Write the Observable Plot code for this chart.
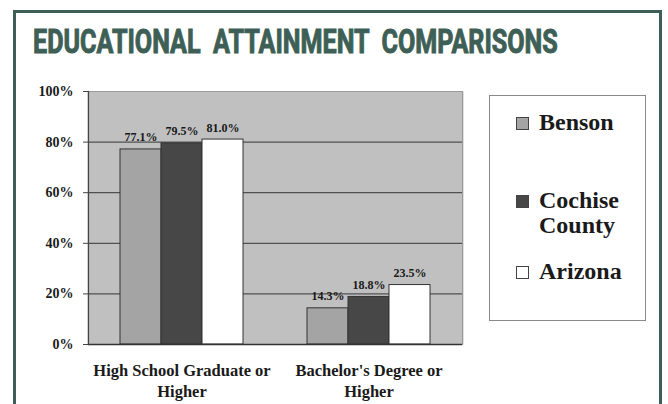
<!DOCTYPE html>
<html>
<head>
<meta charset="utf-8">
<script src="https://cdn.jsdelivr.net/npm/d3@7"></script>
<script src="https://cdn.jsdelivr.net/npm/@observablehq/plot@0.6"></script>
<style>
  html, body { margin: 0; padding: 0; background: #fff; }
  #page { position: relative; width: 668px; height: 404px; overflow: hidden; background: #fff; }
  #border { position: absolute; left: 13px; top: 10px; width: 649px; height: 410px; border: 3px solid #3e5f56; box-sizing: border-box; }
  #title { position: absolute; left: 0; top: 0; }
  #chart { position: absolute; left: 0; top: 80px; }
  #legend { position: absolute; left: 489px; top: 95px; width: 157px; height: 226px; border: 1.5px solid #8a8a8a; box-sizing: border-box; background: #fff;
            font-family: "Liberation Serif", serif; font-weight: bold; font-size: 24px; color: #1a1a1a; }
  .item { position: absolute; left: 26px; display: flex; align-items: flex-start; }
  .sw { width: 11px; height: 11px; border: 1px solid #444; margin-top: 7px; margin-right: 10px; flex: none; }
  .lab { width: 110px; line-height: 25px; }
</style>
</head>
<body>
<div id="page">
  <div id="border"></div>
  <svg id="title" width="668" height="80">
    <text id="titleText" x="0" y="0" font-family="Roboto" font-weight="bold" font-size="33" fill="#3e5f56" stroke="#3e5f56" stroke-width="1">EDUCATIONAL  ATTAINMENT  COMPARISONS</text>
  </svg>
  <div id="chart"></div>
  <div id="legend"></div>
</div>
<script>
const groups = ["High School Graduate or Higher", "Bachelor's Degree or Higher"];
const groupLabels = ["High School Graduate or\nHigher", "Bachelor's Degree or\nHigher"];
const series = ["Benson", "Cochise County", "Arizona"];
const benson = [77.1, 14.3];
const cochise = [79.5, 18.8];
const arizona = [81.0, 23.5];
const yTicks = [0, 20, 40, 60, 80, 100];
const gridValues = [20, 40, 60, 80];
const colors = ["#a4a4a4", "#474747", "#ffffff"];

// condensed title: scale horizontally to the reference width
const tt = document.getElementById("titleText");
tt.style.whiteSpace = "pre";
const natural = tt.getComputedTextLength();
tt.setAttribute("transform", `translate(33,53) scale(${525 / natural},1)`);

const seriesValues = [benson, cochise, arizona];
const rows = groups.flatMap((g, i) => series.map((s, j) => ({group: g, series: s, value: seriesValues[j][i]})));

const chart = Plot.plot({
  width: 480,
  height: 324,
  marginLeft: 87,
  marginRight: 18,
  marginTop: 11,
  marginBottom: 60,
  style: {fontFamily: "'Liberation Serif', serif", fontWeight: "bold", color: "#1a1a1a", background: "transparent", overflow: "visible"},
  fx: {domain: groups, padding: 0, label: null},
  x: {domain: series, paddingInner: 0, paddingOuter: 0.73, axis: null},
  y: {domain: [0, 100], label: null},
  color: {domain: series, range: colors},
  marks: [
    Plot.frame({fill: "#c0c0c0", stroke: "none", insetLeft: -1, insetRight: -1}),
    Plot.ruleY(gridValues, {stroke: "#505050", strokeWidth: 1.3}),
    Plot.ruleY([100], {stroke: "#9a9a9a", strokeWidth: 1}),
    Plot.barY(rows, {fx: "group", x: "series", y: "value", fill: "series", stroke: "#333", strokeWidth: 1}),
    Plot.text(rows, {fx: "group", x: "series", y: "value", text: d => d.value.toFixed(1) + "%", dy: -8, lineAnchor: "bottom", fontSize: 12}),
    Plot.ruleY([0], {stroke: "#333", strokeWidth: 1.5}),
    Plot.frame({anchor: "left", facetAnchor: "left", stroke: "#444", strokeWidth: 1.2}),
    Plot.frame({anchor: "right", facetAnchor: "right", stroke: "#9a9a9a"}),
    Plot.axisY({ticks: yTicks, tickFormat: d => d + "%", tickSize: 5, tickPadding: 10, fontSize: 14, label: null, stroke: "#444"}),
    Plot.axisFx({anchor: "bottom", tickSize: 0, tickPadding: 17, lineAnchor: "top", lineHeight: 1.25, fontSize: 16.5, label: null,
                 tickFormat: g => groupLabels[groups.indexOf(g)]})
  ]
});
document.getElementById("chart").appendChild(chart);

// legend
const legend = document.getElementById("legend");
const itemTops = [14, 92, 163];
series.forEach((s, i) => {
  const item = document.createElement("div");
  item.className = "item";
  item.style.top = itemTops[i] + "px";
  const sw = document.createElement("div");
  sw.className = "sw";
  sw.style.background = colors[i];
  const lab = document.createElement("div");
  lab.className = "lab";
  lab.textContent = s;
  item.appendChild(sw);
  item.appendChild(lab);
  legend.appendChild(item);
});
</script>
</body>
</html>
